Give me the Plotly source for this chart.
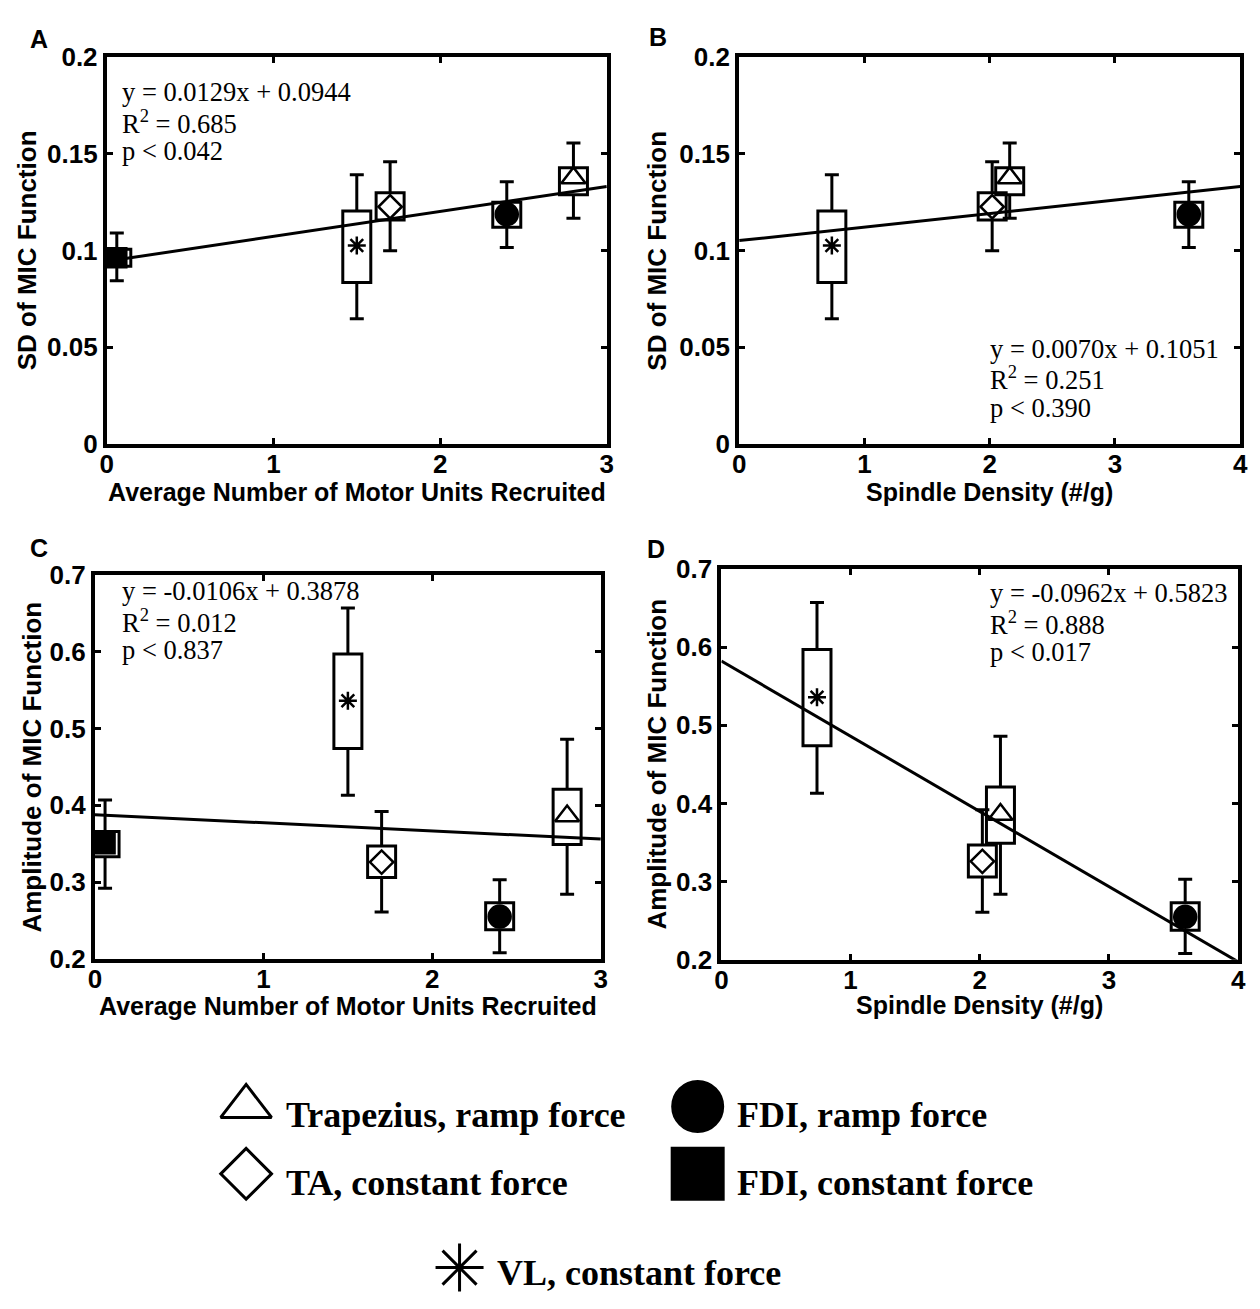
import plotly.graph_objects as go

# ---- measurements per muscle / task ----
muscles = ["Trapezius, ramp force", "TA, constant force", "FDI, ramp force",
           "FDI, constant force", "VL, constant force"]
symbols = ["triangle-up-open", "diamond-open", "circle", "square", "asterisk-open"]

mu_recruited = [2.8, 1.7, 2.4, 0.06, 1.5]
spindle_density = [2.16, 2.02, 3.59, None, 0.74]

sd_mean = [0.1375, 0.1226, 0.1187, 0.0962, 0.1026]
sd_box_lo = [0.1288, 0.1157, 0.1120, 0.0919, 0.0835]
sd_box_hi = [0.1428, 0.1299, 0.1249, 0.1006, 0.1204]
sd_err_lo = [0.1167, 0.0999, 0.1016, 0.0843, 0.0647]
sd_err_hi = [0.1556, 0.1459, 0.1355, 0.1090, 0.1391]

amp_mean = [0.386, 0.326, 0.255, 0.350, 0.536]
amp_box_lo = [0.349, 0.306, 0.238, 0.333, 0.474]
amp_box_hi = [0.421, 0.347, 0.273, 0.366, 0.597]
amp_err_lo = [0.284, 0.261, 0.208, 0.292, 0.413]
amp_err_hi = [0.486, 0.392, 0.303, 0.407, 0.657]

# linear regression results per panel A-D
fit_slope = [0.0129, 0.0070, -0.0106, -0.0962]
fit_intercept = [0.0944, 0.1051, 0.3878, 0.5823]
fit_r2 = ["0.685", "0.251", "0.012", "0.888"]
fit_p = ["0.042", "0.390", "0.837", "0.017"]

x_titles = ["Average Number of Motor Units Recruited", "Spindle Density (#/g)",
            "Average Number of Motor Units Recruited", "Spindle Density (#/g)"]
y_titles = ["SD of MIC Function", "SD of MIC Function",
            "Amplitude of MIC Function", "Amplitude of MIC Function"]
panel_letters = ["A", "B", "C", "D"]

# ---- layout geometry (pixels) ----
W, H = 1260, 1309
# left, right, top, bottom of each plot box
boxes_px = [(101, 607, 43, 439), (741, 1248, 43, 439),
            (89, 601, 573, 966), (723, 1246, 567, 967)]
x_ranges = [[0, 3], [0, 4], [0, 3], [0, 4]]
y_ranges = [[0, 0.2], [0, 0.2], [0.2, 0.7], [0.2, 0.7]]
y_dtick = [0.05, 0.05, 0.1, 0.1]
eq_pos = [(115, 79), (994, 342), (115, 590), (994, 592)]   # first line left/middle
ytitle_offset = [80, 83, 64, 65]
xtitle_offset = [49, 49, 48, 46]
letter_pos = [(32, 25), (659, 23), (32, 546), (657, 547)]
BOX_HALF_PX = 14
LINE_SPACING = 30
KEY_TOP = 1060

SANS = "Arial, Liberation Sans, sans-serif"
SERIF = "Times New Roman, Liberation Serif, serif"

fig = go.Figure()
shapes = []
annotations = []


def px_x(p):
    return p / W


def px_y(p):
    return 1 - p / H


panel_data = [
    (mu_recruited, sd_mean, sd_box_lo, sd_box_hi, sd_err_lo, sd_err_hi),
    (spindle_density, sd_mean, sd_box_lo, sd_box_hi, sd_err_lo, sd_err_hi),
    (mu_recruited, amp_mean, amp_box_lo, amp_box_hi, amp_err_lo, amp_err_hi),
    (spindle_density, amp_mean, amp_box_lo, amp_box_hi, amp_err_lo, amp_err_hi),
]
marker_size = {"triangle-up-open": 21, "diamond-open": 18, "circle": 22,
               "square": 19, "asterisk-open": 15}

layout_axes = {}
for i in range(4):
    xa = "x" if i == 0 else f"x{i + 1}"
    ya = "y" if i == 0 else f"y{i + 1}"
    sfx = "" if i == 0 else str(i + 1)
    xs, mean, blo, bhi, elo, ehi = panel_data[i]
    left, right, top, bottom = boxes_px[i]

    axis_common = dict(
        showgrid=False, zeroline=False, showline=True, linecolor="black", linewidth=4,
        mirror="ticks", ticks="inside", ticklen=6, tickwidth=3, tickcolor="black",
        tickfont=dict(family=SANS, size=26, color="black", weight="bold"),
        fixedrange=True,
    )
    layout_axes["xaxis" + sfx] = dict(
        axis_common, domain=[px_x(left), px_x(right)], range=x_ranges[i],
        dtick=1, tick0=0, anchor=ya, ticklabelstandoff=-6)
    layout_axes["yaxis" + sfx] = dict(
        axis_common, domain=[px_y(bottom), px_y(top)], range=y_ranges[i],
        dtick=y_dtick[i], tick0=0, anchor=xa)

    # regression line across the full x range
    x0, x1 = x_ranges[i]
    fig.add_trace(go.Scatter(
        x=[x0, x1], y=[fit_intercept[i] + fit_slope[i] * x0, fit_intercept[i] + fit_slope[i] * x1],
        mode="lines", line=dict(color="black", width=3), xaxis=xa, yaxis=ya,
        showlegend=False, hoverinfo="skip"))

    for k in range(len(muscles)):
        if xs[k] is None:
            continue
        # whiskers from the box edges to the extremes, with caps
        fig.add_trace(go.Scatter(
            x=[xs[k], xs[k], None, xs[k], xs[k]],
            y=[bhi[k], ehi[k], None, blo[k], elo[k]],
            mode="lines", line=dict(color="black", width=3),
            xaxis=xa, yaxis=ya, showlegend=False, hoverinfo="skip"))
        fig.add_trace(go.Scatter(
            x=[xs[k], xs[k]], y=[ehi[k], elo[k]], mode="markers",
            marker=dict(symbol="line-ew-open", size=10, color="black",
                        line=dict(width=3, color="black")),
            xaxis=xa, yaxis=ya, showlegend=False, hoverinfo="skip"))
        # box
        shapes.append(dict(
            type="rect", xref=xa, yref=ya, xsizemode="pixel", xanchor=xs[k],
            x0=-BOX_HALF_PX, x1=BOX_HALF_PX, y0=blo[k], y1=bhi[k],
            line=dict(color="black", width=3), fillcolor="rgba(0,0,0,0)"))
        # centre marker
        sym = symbols[k]
        fig.add_trace(go.Scatter(
            x=[xs[k]], y=[mean[k]], mode="markers", name=muscles[k],
            marker=dict(symbol=sym, size=marker_size[sym], color="black",
                        line=dict(width=2.5, color="black")),
            xaxis=xa, yaxis=ya, showlegend=False,
            hovertemplate=muscles[k] + "<br>%{x}, %{y}<extra></extra>"))

    # regression statistics
    ex, ey = eq_pos[i]
    eq_lines = [f"y = {fit_slope[i]:.4f}x + {fit_intercept[i]:.4f}",
                f"R<sup>2</sup> = {fit_r2[i]}",
                f"p < {fit_p[i]}"]
    for j, txt in enumerate(eq_lines):
        annotations.append(dict(
            text=txt, xref="paper", yref="paper", x=px_x(ex), y=px_y(ey + j * LINE_SPACING),
            xanchor="left", yanchor="middle", showarrow=False, borderpad=0,
            font=dict(family=SERIF, size=26.5, color="black")))

    # axis titles
    annotations.append(dict(
        text=x_titles[i], xref="paper", yref="paper",
        x=px_x((left + right) / 2), y=px_y(bottom + xtitle_offset[i]),
        xanchor="center", yanchor="middle", showarrow=False, borderpad=0,
        font=dict(family=SANS, size=25, color="black", weight="bold")))
    annotations.append(dict(
        text=y_titles[i], xref="paper", yref="paper",
        x=px_x(left - ytitle_offset[i]), y=px_y((top + bottom) / 2),
        xanchor="center", yanchor="middle", showarrow=False, textangle=-90,
        font=dict(family=SANS, size=26, color="black", weight="bold")))
    lx, ly = letter_pos[i]
    annotations.append(dict(
        text=panel_letters[i], xref="paper", yref="paper", x=px_x(lx), y=px_y(ly),
        xanchor="center", yanchor="middle", showarrow=False,
        font=dict(family=SANS, size=25, color="black", weight="bold")))

# ---- symbol key below the panels, drawn on a hidden pixel-scaled axis ----
key_symbols = ["triangle-up-open", "diamond-open", "circle", "square", "asterisk-open"]
key_marker_xy = [(242, 1117), (242, 1186), (699, 1117), (699, 1186), (458, 1282)]
key_text_x = [280, 280, 737, 737, 494]
key_text_y = [1126, 1195, 1126, 1195, 1288]
key_sizes = [44, 39, 50, 51, 40]
layout_axes["xaxis5"] = dict(domain=[0, 1], range=[0, W], visible=False,
                             fixedrange=True, anchor="y5")
layout_axes["yaxis5"] = dict(domain=[0, px_y(KEY_TOP)], range=[H, KEY_TOP], visible=False,
                             fixedrange=True, anchor="x5")
for k, name in enumerate(muscles):
    mx, my = key_marker_xy[k]
    fig.add_trace(go.Scatter(
        x=[mx], y=[my], mode="markers", xaxis="x5", yaxis="y5", showlegend=False,
        marker=dict(symbol=key_symbols[k], size=key_sizes[k], color="black",
                    line=dict(width=3, color="black")), hoverinfo="skip"))
    annotations.append(dict(
        text=name, xref="x5", yref="y5", x=key_text_x[k], y=key_text_y[k],
        xanchor="left", yanchor="middle", showarrow=False,
        font=dict(family=SERIF, size=36, color="black", weight="bold")))

fig.update_layout(
    width=W, height=H, margin=dict(l=0, r=0, t=0, b=0),
    paper_bgcolor="white", plot_bgcolor="rgba(0,0,0,0)",
    shapes=shapes, annotations=annotations, showlegend=False,
    **layout_axes,
)

fig.write_html("out.html")
